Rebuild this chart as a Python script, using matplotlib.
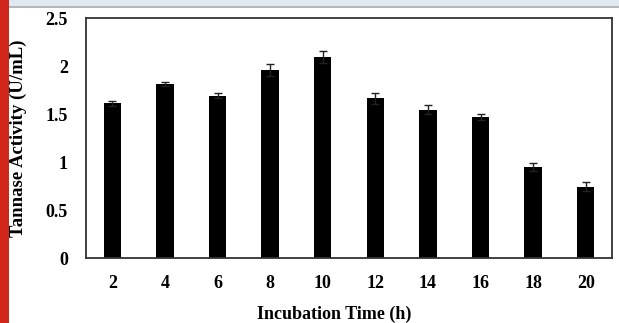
import matplotlib
matplotlib.use("Agg")
import matplotlib.pyplot as plt
import numpy as np
from matplotlib.patches import Rectangle

# Tannase activity over incubation time
hours = ["2", "4", "6", "8", "10", "12", "14", "16", "18", "20"]
activity = [1.615, 1.815, 1.695, 1.96, 2.10, 1.665, 1.55, 1.475, 0.95, 0.745]
activity_err = [0.024, 0.024, 0.03, 0.065, 0.063, 0.06, 0.045, 0.03, 0.04, 0.045]
y_ticks = [0, 0.5, 1, 1.5, 2, 2.5]
y_tick_labels = ["0", "0.5", "1", "1.5", "2", "2.5"]

plt.rcParams['font.family'] = ['Liberation Serif', 'DejaVu Serif']
plt.rcParams['font.weight'] = 'bold'

W, H = 619, 323
fig = plt.figure(figsize=(W / 100, H / 100), dpi=100)

# page decorations: red side strip and top band
fig.patches.append(Rectangle((0, 0), 9 / W, 1, transform=fig.transFigure,
                             facecolor='#d3261a', edgecolor='none', zorder=0))
fig.patches.append(Rectangle((9 / W, 1 - 6 / H), 1, 6 / H, transform=fig.transFigure,
                             facecolor='#e1e8f0', edgecolor='none', zorder=0))
fig.patches.append(Rectangle((9 / W, 1 - 8 / H), 1, 2 / H, transform=fig.transFigure,
                             facecolor='#b4b8bc', edgecolor='none', zorder=0))

ax = fig.add_axes([86 / W, (H - 258.3) / H, 526 / W, 240 / H])
x = np.arange(len(hours))
ax.bar(x, activity, width=0.33, color='black', zorder=2)
ax.errorbar(x, activity, yerr=activity_err, fmt='none', ecolor='#222222',
            elinewidth=1, capsize=3, capthick=1, zorder=3)

ax.set_xlim(-0.5, len(hours) - 0.5)
ax.set_ylim(0, 2.5)
ax.set_xticks(x)
ax.set_xticklabels(hours, fontsize=13, fontweight='bold')
ax.set_yticks(y_ticks)
ax.set_yticklabels(y_tick_labels, fontsize=13, fontweight='bold')
ax.tick_params(axis='x', length=0, pad=12)
ax.tick_params(axis='y', length=0, pad=13)

for side in ax.spines.values():
    side.set_linewidth(1.3)
    side.set_color('#333333')

fig.text(334 / W, 1 - 314 / H, "Incubation Time (h)", ha='center', va='center',
         fontsize=13, fontweight='bold')
fig.text(18 / W, 1 - 138 / H, "Tannase Activity (U/mL)", ha='center', va='center',
         rotation=90, fontsize=13.5, fontweight='bold')

fig.savefig("out.png", dpi=100)
